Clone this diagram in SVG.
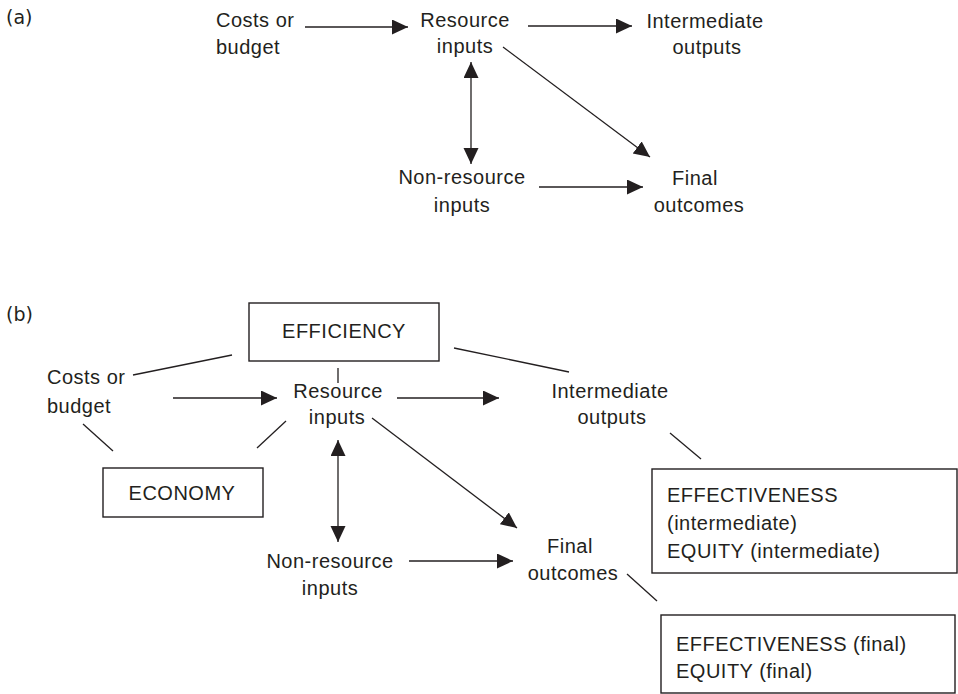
<svg xmlns="http://www.w3.org/2000/svg" width="958" height="694" viewBox="0 0 958 694">
  <style>
    .lbl { font-family: "Liberation Sans", Arial, sans-serif; font-size: 20px; fill: #231f20; letter-spacing: 0.5px; }
    .mid { text-anchor: middle; }
    .tag { font-family: "DejaVu Sans", sans-serif; font-size: 19px; fill: #231f20; }
    .box { fill: #ffffff; stroke: #231f20; stroke-width: 1.4; }
    .ln { fill: none; stroke: #231f20; stroke-width: 1.3; }
    .arr { marker-end: url(#head); }
    .dbl { marker-start: url(#head); marker-end: url(#head); }
  </style>
  <defs>
    <marker id="head" markerUnits="userSpaceOnUse" markerWidth="17" markerHeight="16" refX="16" refY="7.5" orient="auto-start-reverse">
      <path d="M0,0 L16,7.5 L0,15 Z" fill="#231f20"/>
    </marker>
  </defs>
  <rect width="958" height="694" fill="#ffffff"/>

  <!-- panel (a) -->
  <text class="tag" x="6" y="24">(a)</text>
  <g id="a-costs"><text class="lbl" x="216" y="27">Costs or</text><text class="lbl" x="216" y="54">budget</text></g>
  <g id="a-resource"><text class="lbl mid" x="465" y="27">Resource</text><text class="lbl mid" x="465" y="53">inputs</text></g>
  <g id="a-intermediate"><text class="lbl mid" x="705" y="28">Intermediate</text><text class="lbl mid" x="707" y="54">outputs</text></g>
  <g id="a-nonresource"><text class="lbl mid" x="462" y="184">Non-resource</text><text class="lbl mid" x="462" y="212">inputs</text></g>
  <g id="a-final"><text class="lbl mid" x="695" y="185">Final</text><text class="lbl mid" x="699" y="212">outcomes</text></g>
  <g id="a-connectors">
    <line class="ln arr" x1="305" y1="27" x2="408" y2="27"/>
    <line class="ln arr" x1="528" y1="26" x2="632" y2="26"/>
    <line class="ln dbl" x1="471" y1="62" x2="471" y2="164"/>
    <line class="ln arr" x1="503" y1="47" x2="650" y2="157"/>
    <line class="ln arr" x1="539" y1="187" x2="643" y2="187"/>
  </g>

  <!-- panel (b) -->
  <text class="tag" x="6" y="321">(b)</text>
  <g id="b-efficiency"><rect class="box" x="249" y="303" width="190" height="58"/><text class="lbl mid" x="344" y="338">EFFICIENCY</text></g>
  <g id="b-costs"><text class="lbl" x="47" y="384">Costs or</text><text class="lbl" x="47" y="413">budget</text></g>
  <g id="b-resource"><text class="lbl mid" x="338" y="398">Resource</text><text class="lbl mid" x="337" y="424">inputs</text></g>
  <g id="b-intermediate"><text class="lbl mid" x="610" y="398">Intermediate</text><text class="lbl mid" x="612" y="424">outputs</text></g>
  <g id="b-economy"><rect class="box" x="103" y="468" width="160" height="49"/><text class="lbl mid" x="182" y="500">ECONOMY</text></g>
  <g id="b-nonresource"><text class="lbl mid" x="330" y="568">Non-resource</text><text class="lbl mid" x="330" y="595">inputs</text></g>
  <g id="b-final"><text class="lbl mid" x="570" y="553">Final</text><text class="lbl mid" x="573" y="580">outcomes</text></g>
  <g id="b-eff-intermediate">
    <rect class="box" x="652" y="469" width="305" height="104"/>
    <text class="lbl" x="667" y="502">EFFECTIVENESS</text>
    <text class="lbl" x="667" y="530">(intermediate)</text>
    <text class="lbl" x="667" y="558">EQUITY (intermediate)</text>
  </g>
  <g id="b-eff-final">
    <rect class="box" x="661" y="615" width="294" height="78"/>
    <text class="lbl" x="676" y="651">EFFECTIVENESS (final)</text>
    <text class="lbl" x="676" y="678">EQUITY (final)</text>
  </g>
  <g id="b-connectors">
    <line class="ln" x1="232" y1="355" x2="133" y2="375"/>
    <line class="ln" x1="338" y1="368" x2="338" y2="383"/>
    <line class="ln" x1="83" y1="424" x2="113" y2="451"/>
    <line class="ln" x1="286" y1="421" x2="257" y2="448"/>
    <line class="ln" x1="454" y1="348" x2="569" y2="372"/>
    <line class="ln" x1="670" y1="433" x2="701" y2="459"/>
    <line class="ln" x1="627" y1="574" x2="657" y2="601"/>
    <line class="ln arr" x1="173" y1="398" x2="277" y2="398"/>
    <line class="ln arr" x1="397" y1="398" x2="499" y2="398"/>
    <line class="ln dbl" x1="338" y1="440" x2="338" y2="542"/>
    <line class="ln arr" x1="372" y1="418" x2="517" y2="528"/>
    <line class="ln arr" x1="409" y1="561" x2="513" y2="561"/>
  </g>
</svg>
